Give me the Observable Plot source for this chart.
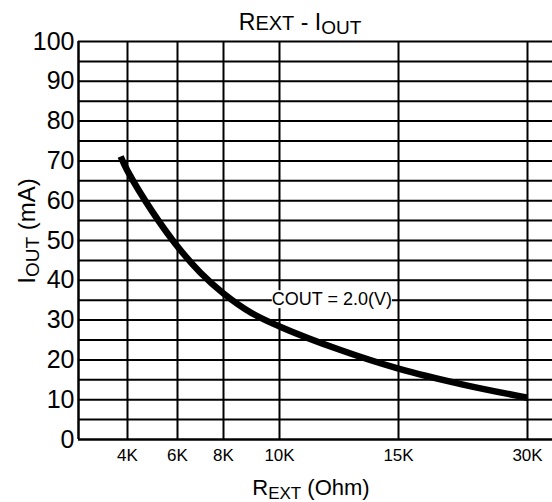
<!DOCTYPE html>
<html><head><meta charset="utf-8">
<script src="https://cdn.jsdelivr.net/npm/d3@7"></script>
<script src="https://cdn.jsdelivr.net/npm/@observablehq/plot@0.6"></script>
<style>
body{margin:0;background:#fff}
svg{display:block}
</style>
</head><body><div id="chart"></div>
<script>
// Curve: R_EXT in kOhm, I_OUT in mA
const rext = [3.72, 4, 5, 6, 7, 8, 9, 10, 12.5, 15, 22.5, 30];
const iout = [71.1, 67.5, 57.2, 48.5, 41.9, 36.7, 31.8, 28.4, 22.6, 17.8, 13.8, 10.5];

const xTicks = [4, 6, 8, 10, 15, 30];
const xTickLabels = ["4K", "6K", "8K", "10K", "15K", "30K"];
const yTicks = [0, 10, 20, 30, 40, 50, 60, 70, 80, 90, 100];
const yGrid = [5, 10, 15, 20, 25, 30, 35, 40, 45, 50, 55, 60, 65, 70, 75, 80, 85, 90, 95, 100];

// piecewise (non-uniform) x axis of the original
const xBreaks = [2, 4, 6, 8, 10, 15, 30, 33];
const xPixels = [78, 127, 177, 223, 279, 398, 527, 552];

const noteText = "COUT = 2.0(V)";
const noteX = 12.2;
const noteY = 35.2;

const font = "'Liberation Sans', Arial, Helvetica, sans-serif";
const data = rext.map((r, i) => ({r, i: iout[i]}));
const fmt = d => xTickLabels[xTicks.indexOf(d)];

const plot = Plot.plot({
  width: 552, height: 502,
  marginTop: 41, marginBottom: 63, marginLeft: 78, marginRight: 0,
  style: {fontFamily: font, background: "white", color: "black", overflow: "visible"},
  x: {type: "linear", domain: xBreaks, range: xPixels, label: null},
  y: {domain: [0, 100], label: null},
  marks: [
    Plot.ruleY(yGrid, {stroke: "black", strokeWidth: 2}),
    Plot.ruleX(xTicks, {y1: 0, y2: 100, stroke: "black", strokeWidth: 2}),
    Plot.ruleX([xBreaks[0]], {y1: 0, y2: 100, stroke: "black", strokeWidth: 2.5}),
    Plot.ruleY([0], {stroke: "black", strokeWidth: 2.5}),
    Plot.axisX({ticks: xTicks, tickFormat: fmt, tickSize: 0, tickPadding: 9, fontSize: 17, label: null}),
    Plot.axisY({ticks: yTicks, tickSize: 0, tickPadding: 4, fontSize: 25, label: null}),
    Plot.text([noteText], {x: noteX, y: noteY, text: d => d, fontSize: 18, fill: "black", textAnchor: "middle"}),
    Plot.line(data, {x: "r", y: "i", curve: "catmull-rom", stroke: "black", strokeWidth: 6.5, strokeLinecap: "butt"})
  ]
});
document.getElementById("chart").appendChild(plot);

const svg = d3.select(plot);

// white box behind the annotation (same local transform as the text)
svg.selectAll("text").each(function() {
  if (this.textContent.trim() !== noteText) return;
  const bb = this.getBBox();
  const tf = this.getAttribute("transform");
  const r = d3.select(this.parentNode).insert("rect", () => this)
    .attr("x", bb.x).attr("y", bb.y + 1).attr("width", bb.width).attr("height", bb.height - 2)
    .attr("fill", "white").attr("stroke", "none");
  if (tf) r.attr("transform", tf);
});

function rich(x, y, parts, rotate) {
  const t = svg.append("text")
    .attr("text-anchor", "middle")
    .attr("font-family", font)
    .attr("fill", "black")
    .attr("transform", rotate ? `translate(${x},${y}) rotate(-90)` : `translate(${x},${y})`);
  let shift = 0;
  for (const [s, size, sub] of parts) {
    const want = sub || 0;
    t.append("tspan").attr("font-size", size).attr("dy", want - shift).text(s);
    shift = want;
  }
  return t;
}

rich(300, 30, [["R", 23, 0], ["EXT", 20, 0], [" - I", 23, 0], ["OUT", 19, 4]]);
rich(311, 495, [["R", 22, 0], ["EXT", 17, 4], [" (Ohm)", 22, 0]]);
rich(35, 231, [["I", 24, 0], ["OUT", 19, 4], [" (mA)", 24, 0]], true);
</script>
</body></html>
